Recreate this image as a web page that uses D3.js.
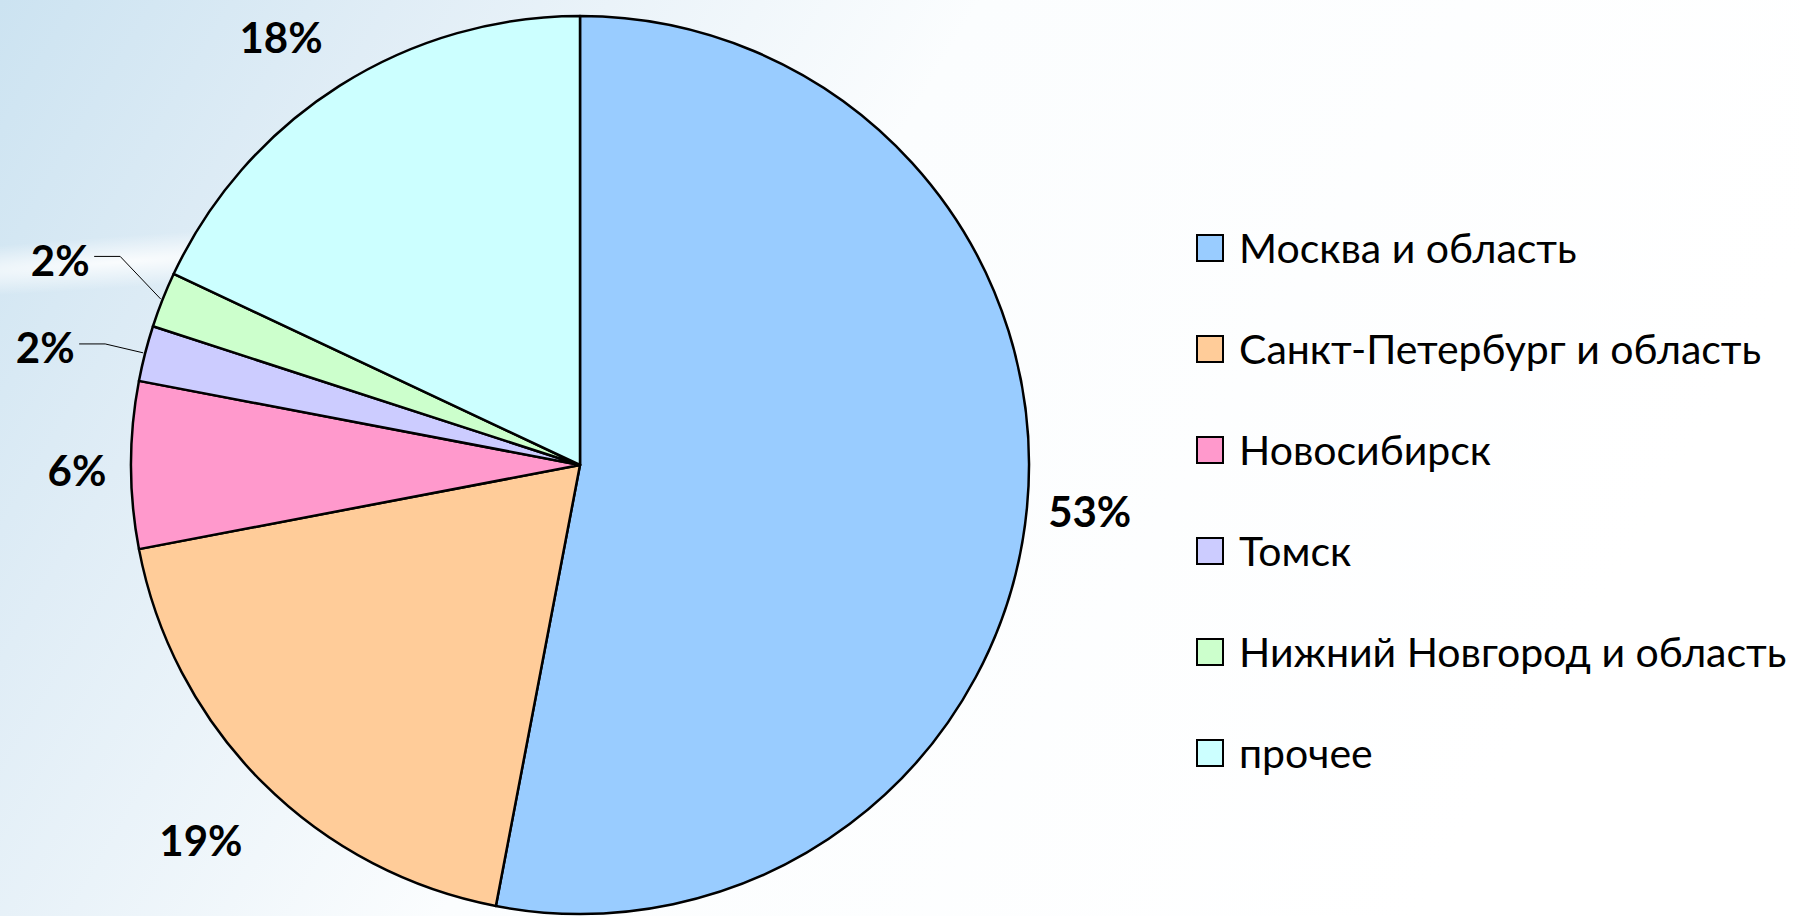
<!DOCTYPE html>
<html>
<head>
<meta charset="utf-8">
<script src="https://cdn.jsdelivr.net/npm/d3@7"></script>
<style>
  html, body { margin: 0; padding: 0; background: #fff; }
  svg { display: block; }
</style>
</head>
<body>
<svg id="chart" width="1800" height="916"></svg>
<script>
// regions and their share, %
var regions = ["Москва и область", "Санкт-Петербург и область", "Новосибирск", "Томск", "Нижний Новгород и область", "прочее"];
var shares = [53, 19, 6, 2, 2, 18];
var colors = ["#99ccff", "#ffcc99", "#ff99cc", "#ccccff", "#ccffcc", "#ccffff"];
// small nudges for the labels that were moved away from the slice
var labelShift = [[-3, -2], [-15, 12], [12, 6], [-36, 11], [-41, -15], [-23, 8]];

var svg = d3.select("#chart"),
    width = +svg.attr("width"),
    height = +svg.attr("height");

var cx = 580, cy = 465, radius = 449;

// background, pale blue on the left fading to white
var defs = svg.append("defs");
var bg = defs.append("linearGradient").attr("id", "bg")
    .attr("x1", "0").attr("y1", "0").attr("x2", "1").attr("y2", "0.3");
bg.append("stop").attr("offset", "0").attr("stop-color", "#cce3f1");
bg.append("stop").attr("offset", "0.2").attr("stop-color", "#e0edf6");
bg.append("stop").attr("offset", "0.5").attr("stop-color", "#fbfdfe");
bg.append("stop").attr("offset", "1").attr("stop-color", "#ffffff");

var streak = defs.append("radialGradient").attr("id", "streak");
streak.append("stop").attr("offset", "0").attr("stop-color", "#ffffff").attr("stop-opacity", 0.85);
streak.append("stop").attr("offset", "1").attr("stop-color", "#ffffff").attr("stop-opacity", 0);

svg.append("rect").attr("width", width).attr("height", height).attr("fill", "url(#bg)");
svg.append("ellipse")
    .attr("cx", 120).attr("cy", 262).attr("rx", 420).attr("ry", 26)
    .attr("transform", "rotate(-4 120 262)")
    .attr("fill", "url(#streak)");

var pie = d3.pie().sort(null).value(function(d) { return d; });
var arcs = pie(shares);

var arc = d3.arc().innerRadius(0).outerRadius(radius);

var g = svg.append("g").attr("transform", "translate(" + cx + "," + cy + ")");

g.selectAll("path.slice")
    .data(arcs)
    .enter().append("path")
    .attr("class", "slice")
    .attr("d", arc)
    .attr("fill", function(d, i) { return colors[i]; })
    .attr("stroke", "#000")
    .attr("stroke-width", 2.5)
    .attr("stroke-linejoin", "round");

// labels sit just outside the rim
var labelR = 515;
function mid(d) { return (d.startAngle + d.endAngle) / 2; }
function labelPos(d, i) {
    var a = mid(d);
    return [labelR * Math.sin(a) + labelShift[i][0], -labelR * Math.cos(a) + labelShift[i][1]];
}

// leader lines for the thin slices
var small = arcs.filter(function(d) { return d.data <= 2; });
g.selectAll("path.leader")
    .data(small)
    .enter().append("path")
    .attr("class", "leader")
    .attr("fill", "none")
    .attr("stroke", "#000")
    .attr("stroke-width", 1)
    .attr("d", function(d) {
        var i = arcs.indexOf(d);
        var a = mid(d);
        var p0 = [(radius + 2) * Math.sin(a), -(radius + 2) * Math.cos(a)];
        var lp = labelPos(d, i);
        var ey = lp[1] - 4;
        var ex = lp[0] + 34;
        var elbow = [ex + 26, ey];
        return "M" + p0 + "L" + elbow + "L" + [ex, ey];
    });

g.selectAll("text.pct")
    .data(arcs)
    .enter().append("text")
    .attr("class", "pct")
    .attr("transform", function(d, i) { return "translate(" + labelPos(d, i) + ")"; })
    .attr("text-anchor", "middle")
    .attr("dy", "0.36em")
    .style("font-family", "Lato, 'Open Sans', sans-serif")
    .style("font-weight", 700)
    .style("font-size", "42px")
    .attr("fill", "#000")
    .text(function(d) { return d.data + "%"; });

// legend
var legend = svg.append("g").attr("transform", "translate(1197,248)");
var rowStep = 101;
var item = legend.selectAll("g")
    .data(regions)
    .enter().append("g")
    .attr("transform", function(d, i) { return "translate(0," + i * rowStep + ")"; });

item.append("rect")
    .attr("x", 0).attr("y", -13)
    .attr("width", 26).attr("height", 26)
    .attr("fill", function(d, i) { return colors[i]; })
    .attr("stroke", "#000")
    .attr("stroke-width", 2);

item.append("text")
    .attr("x", 42)
    .attr("dy", "0.36em")
    .style("font-family", "Lato, 'Open Sans', sans-serif")
    .style("font-size", "41px")
    .attr("fill", "#000")
    .text(function(d) { return d; });
</script>
</body>
</html>
